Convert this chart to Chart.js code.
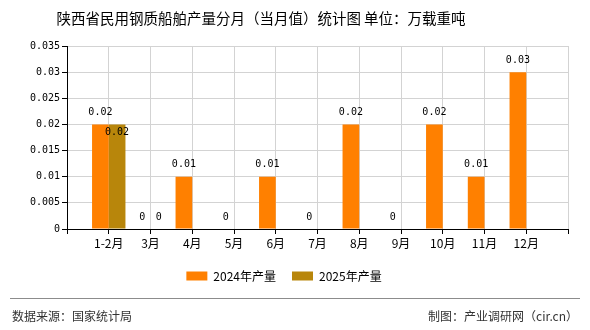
<!DOCTYPE html>
<html>
<head>
<meta charset="utf-8">
<script src="https://cdn.jsdelivr.net/npm/chart.js@4/dist/chart.umd.min.js"></script>
<style>
  html, body { margin: 0; padding: 0; background: #fff; }
  #wrap { width: 590px; height: 330px; position: relative; }
</style>
</head>
<body>
<div id="wrap"><canvas id="c" width="590" height="330"></canvas></div>
<script>
// monthly output, 万载重吨
const categories = ["1-2月", "3月", "4月", "5月", "6月", "7月", "8月", "9月", "10月", "11月", "12月"]
const output2024 = [0.02, 0, 0.01, 0, 0.01, 0, 0.02, 0, 0.02, 0.01, 0.03]
const output2025 = [0.02, 0, null, null, null, null, null, null, null, null, null]
const seriesNames = ["2024年产量", "2025年产量"]
const yMax = 0.035
const yStep = 0.005

const titleText = "陕西省民用钢质船舶产量分月（当月值）统计图 单位：万载重吨"
const sourceText = "数据来源：国家统计局"
const creditText = "制图：产业调研网（cir.cn）"

const CJK = '"Noto Sans CJK SC", "Noto Sans", sans-serif'
const MONO = '"DejaVu Sans Mono", "Liberation Mono", monospace'

// empty slots on both ends so the categories sit on ticks 1..11 of 0..12
const axisLabels = ["", ...categories, ""]
const pad = (arr) => [null, ...arr, null]

const fmt = (v) => String(parseFloat(Number(v).toFixed(3)))

// title, footer rule and source lines
const framePlugin = {
  id: "frame",
  afterDraw(chart) {
    const ctx = chart.ctx
    ctx.save()
    ctx.fillStyle = "#000"
    ctx.font = "14.5px " + CJK
    ctx.textAlign = "center"
    ctx.textBaseline = "middle"
    ctx.fillText(titleText, 261, 18)

    ctx.strokeStyle = "#8c8c8c"
    ctx.lineWidth = 1
    ctx.beginPath()
    ctx.moveTo(10, 298.5)
    ctx.lineTo(580, 298.5)
    ctx.stroke()

    ctx.fillStyle = "#333"
    ctx.font = "12px " + CJK
    ctx.textAlign = "left"
    ctx.fillText(sourceText, 12, 316)
    ctx.textAlign = "right"
    ctx.fillText(creditText, 578, 316)
    ctx.restore()
  },
}

// value labels over the bars, pushed down when they collide
const valueLabels = {
  id: "valueLabels",
  afterDatasetsDraw(chart) {
    const ctx = chart.ctx
    const placed = []
    ctx.save()
    ctx.font = "10px " + MONO
    ctx.fillStyle = "#000"
    ctx.textAlign = "center"
    ctx.textBaseline = "middle"
    chart.data.datasets.forEach((ds, di) => {
      const meta = chart.getDatasetMeta(di)
      meta.data.forEach((bar, i) => {
        const v = ds.data[i]
        if (v === null || v === undefined) return
        const text = fmt(v)
        const w = ctx.measureText(text).width
        let y = bar.y - 12
        const box = () => ({ l: bar.x - w / 2, r: bar.x + w / 2, t: y - 6, b: y + 6 })
        let b = box()
        if (placed.some((p) => b.l < p.r && b.r > p.l && b.t < p.b && b.b > p.t)) {
          y += 20
          b = box()
        }
        placed.push(b)
        ctx.fillText(text, bar.x, y)
      })
    })
    ctx.restore()
  },
}

new Chart(document.getElementById("c"), {
  type: "bar",
  data: {
    labels: axisLabels,
    datasets: [
      {
        label: seriesNames[0],
        data: pad(output2024),
        backgroundColor: "#FF8000",
      },
      {
        label: seriesNames[1],
        data: pad(output2025),
        backgroundColor: "#B8860B",
      },
    ],
  },
  options: {
    responsive: false,
    animation: false,
    events: [],
    layout: { padding: { left: 0, right: 22, top: 46, bottom: 38 } },
    datasets: {
      bar: { categoryPercentage: 0.8, barPercentage: 1.0 },
    },
    plugins: {
      title: { display: false },
      tooltip: { enabled: false },
      legend: {
        position: "bottom",
        labels: {
          boxWidth: 21,
          boxHeight: 9,
          padding: 16,
          color: "#000",
          font: { size: 12, family: CJK },
        },
      },
    },
    scales: {
      x: {
        offset: false,
        grid: { offset: false, color: "#d3d3d3", tickColor: "#000", tickLength: 5 },
        border: { color: "#000" },
        ticks: {
          autoSkip: false,
          maxRotation: 0,
          padding: 2,
          color: "#000",
          font: { size: 12, family: CJK },
        },
        afterFit: (s) => { s.height = 25 },
      },
      y: {
        min: 0,
        max: yMax,
        grid: { color: "#d3d3d3", tickColor: "#000", tickLength: 5 },
        border: { color: "#000" },
        ticks: {
          stepSize: yStep,
          padding: 2,
          color: "#000",
          font: { size: 10, family: MONO },
          callback: (v) => fmt(v),
        },
        afterFit: (s) => { s.width = 67 },
      },
    },
  },
  plugins: [framePlugin, valueLabels],
})
</script>
</body>
</html>
